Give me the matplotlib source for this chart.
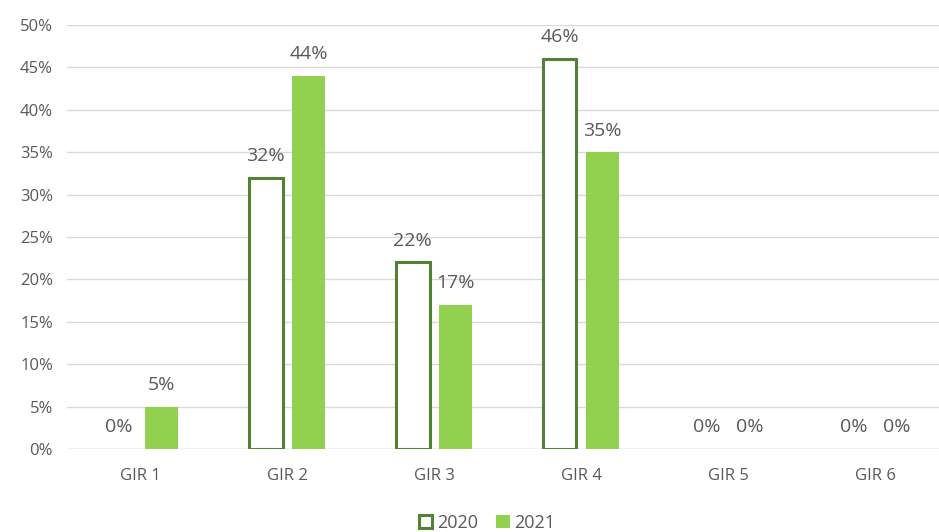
import numpy as np
import matplotlib.pyplot as plt
from matplotlib.ticker import PercentFormatter

categories = ["GIR 1", "GIR 2", "GIR 3", "GIR 4", "GIR 5", "GIR 6"]
vals_2020 = [0, 32, 22, 46, 0, 0]
vals_2021 = [5, 44, 17, 35, 0, 0]
yticks = [0, 5, 10, 15, 20, 25, 30, 35, 40, 45, 50]

DARK = "#548235"
LIGHT = "#92D050"
GREY = "#595959"

plt.rcParams['font.family'] = ['Open Sans', 'DejaVu Sans']

fig = plt.figure(figsize=(9.39, 5.32), dpi=100)
ax = fig.add_axes([67/939, 1 - 449/532, 872/939, 424/532])

x = np.arange(len(categories))
w = 0.23
off = 0.146

# no outline for empty bars
lw = [2.2 if v > 0 else 0 for v in vals_2020]
b1 = ax.bar(x - off, vals_2020, w, facecolor="white", edgecolor=DARK, linewidth=lw, label="2020", zorder=3)
b2 = ax.bar(x + off, vals_2021, w, color=LIGHT, label="2021", zorder=3)

for xs, vals in ((x - off, vals_2020), (x + off, vals_2021)):
    for xi, v in zip(xs, vals):
        ax.annotate(f"{v}%", (xi, v), xytext=(0, 9), textcoords="offset points",
                    ha="center", va="bottom", fontsize=14, color=GREY)

ax.set_ylim(0, 50)
ax.set_xlim(-0.497, 5.435)
ax.set_yticks(yticks)
ax.yaxis.set_major_formatter(PercentFormatter(decimals=0))
ax.set_xticks(x)
ax.set_xticklabels(categories)
ax.tick_params(axis="both", length=0, labelsize=12, colors=GREY)
ax.tick_params(axis="x", pad=14)
ax.tick_params(axis="y", pad=10)
ax.grid(axis="y", color="#D9D9D9", linewidth=1, zorder=0)
for s in ax.spines.values():
    s.set_visible(False)
ax.axhline(0, color="#D9D9D9", linewidth=1, zorder=1)

h1 = plt.Rectangle((0, 0), 1, 1, facecolor="white", edgecolor=DARK, linewidth=2.2)
leg = fig.legend(handles=[h1, b2], labels=["2020", "2021"], loc="lower center",
                 bbox_to_anchor=(487/939, -0.03),
                 ncol=2, frameon=False, fontsize=13, handlelength=0.75, handleheight=0.75,
                 handletextpad=0.25, columnspacing=1.0)
for t in leg.get_texts():
    t.set_color(GREY)

fig.savefig("out.png", dpi=100)
